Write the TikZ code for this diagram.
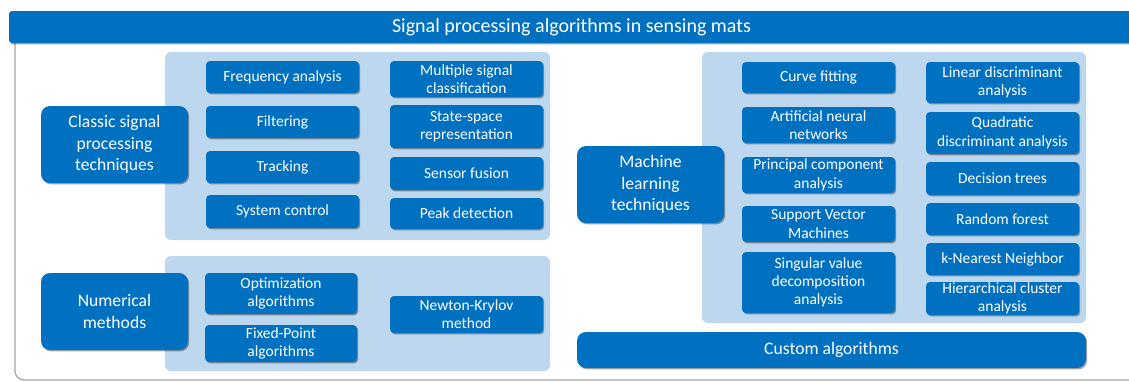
\documentclass[tikz,border=0pt]{standalone}
\usepackage{fontspec}
\setmainfont{Carlito}
\usetikzlibrary{shadows}
\definecolor{dblue}{HTML}{0070C0}
\definecolor{lblue}{HTML}{BDD7EE}
\definecolor{framegray}{HTML}{A6A6A6}
\tikzset{
  shad/.style={drop shadow={shadow xshift=1.2pt,shadow yshift=-1.4pt,opacity=0.35,fill=black}},
  sbox/.style={fill=dblue,rounded corners=4pt,text=white,align=center,inner sep=0pt,
    font=\fontsize{15.5}{18.3}\selectfont,shad},
  hbox/.style={fill=dblue,rounded corners=9pt,text=white,align=center,inner sep=0pt,
    font=\fontsize{17.6}{21.5}\selectfont,shad},
  panel/.style={fill=lblue,rounded corners=6pt,inner sep=0pt},
  titlebar/.style={fill=dblue,rounded corners=3pt,text=white,inner sep=0pt,
    font=\fontsize{20}{24}\selectfont,shad},
}
% \bx[style]{name}{x1}{y1}{x2}{y2}{text}
\newcommand\bx[7][sbox]{%
  \node[#1,minimum width={#5-#3},minimum height={#6-#4}] (#2) at ({(#3+#5)/2},{(#4+#6)/2}) {#7};}
\begin{document}
\begin{tikzpicture}[x=1pt,y=-1pt]
\useasboundingbox (0,0) rectangle (1129,381);
% outer frame
\coordinate (ftop) at (15,43);
\coordinate (fbl) at (15,380);
\coordinate (fbr) at (1129,380);
\draw[framegray,line width=1.3pt,rounded corners=9pt] (ftop) -- (fbl) -- (fbr);
% title
\bx[titlebar]{title}{9}{11}{1134}{43}{Signal processing algorithms in sensing mats}
% panels
\bx[panel]{p1}{165}{52}{550}{240}{}
\bx[panel]{p2}{165}{256}{550}{371}{}
\bx[panel]{p3}{702}{52}{1086}{323}{}
% classic
\bx[hbox]{classic}{41}{106}{188}{183}{Classic signal\\processing\\techniques}
\bx{freq}{206}{61}{359}{93}{Frequency analysis}
\bx{filt}{206}{106}{359}{138}{Filtering}
\bx{track}{206}{151}{359}{183}{Tracking}
\bx{sysc}{206}{195}{359}{228}{System control}
\bx{music}{390}{61}{543}{97}{Multiple signal\\classification}
\bx{ssr}{390}{105}{543}{148}{State-space\\representation}
\bx{sfus}{390}{157}{543}{190}{Sensor fusion}
\bx{peak}{390}{198}{543}{229}{Peak detection}
% numerical
\bx[hbox]{numm}{41}{273}{188}{350}{Numerical\\methods}
\bx{opt}{205}{273}{357}{314}{Optimization\\algorithms}
\bx{fixp}{205}{325}{357}{362}{Fixed-Point\\algorithms}
\bx{newt}{390}{296}{543}{333}{Newton-Krylov\\method}
% machine learning
\bx[hbox]{ml}{577}{146}{724}{223}{Machine\\learning\\techniques}
\bx{curve}{742}{62}{895}{93}{Curve fitting}
\bx{ann}{742}{107}{895}{143}{Artificial neural\\networks}
\bx{pca}{742}{157}{895}{193}{Principal component\\analysis}
\bx{svm}{742}{206}{895}{242}{Support Vector\\Machines}
\bx{svd}{742}{252}{895}{313}{Singular value\\decomposition\\analysis}
\bx{lda}{926}{62}{1079}{103}{Linear discriminant\\analysis}
\bx{qda}{926}{112}{1079}{154}{Quadratic\\discriminant analysis}
\bx{dtree}{926}{162}{1079}{195}{Decision trees}
\bx{rf}{926}{203}{1079}{235}{Random forest}
\bx{knn}{926}{243}{1079}{275}{k-Nearest Neighbor}
\bx{hca}{926}{282}{1079}{315}{Hierarchical cluster\\analysis}
% custom
\bx[hbox]{custom}{577}{332}{1086}{368}{Custom algorithms}
\end{tikzpicture}
\end{document}
